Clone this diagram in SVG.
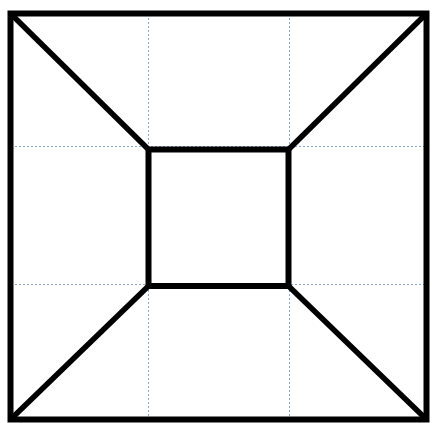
<svg xmlns="http://www.w3.org/2000/svg" width="432" height="423" viewBox="0 0 432 423">
<style>
.grid{stroke:#8aa8cc;stroke-width:1;stroke-dasharray:2,2;fill:none}
.thick{stroke:#000;stroke-width:6;fill:none}
.diag{stroke:#000;stroke-width:5.5;fill:none;stroke-linecap:butt}
</style>
<rect width="432" height="423" fill="#fff"/>
<g id="grid">
<line class="grid" x1="148.5" y1="14" x2="148.5" y2="418"/>
<line class="grid" x1="289.5" y1="14" x2="289.5" y2="418"/>
<line class="grid" x1="11" y1="146.5" x2="426" y2="146.5"/>
<line class="grid" x1="11" y1="284.5" x2="426" y2="284.5"/>
</g>
<g id="connectors">
<line class="diag" x1="11" y1="14" x2="148.5" y2="149.5"/>
<line class="diag" x1="426" y1="14" x2="288.5" y2="149.5"/>
<line class="diag" x1="11" y1="419" x2="148.5" y2="286"/>
<line class="diag" x1="426" y1="419" x2="288.5" y2="286"/>
</g>
<g id="outer"><rect class="thick" x="10.5" y="13.5" width="416" height="406"/></g>
<g id="inner"><rect class="thick" x="148.5" y="149.5" width="140" height="136.5"/></g>
</svg>
